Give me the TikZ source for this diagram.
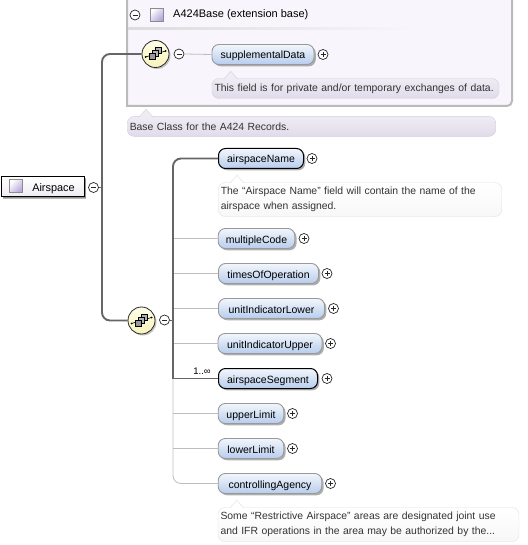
\documentclass[tikz,border=0pt]{standalone}
\usepackage{fontspec}
\setmainfont{Liberation Sans}
\usetikzlibrary{shadows}
\definecolor{spinegray}{HTML}{666666}
\definecolor{thingray}{HTML}{BDBDBD}
\definecolor{basefill}{HTML}{F8F6FC}
\definecolor{doctop}{HTML}{EFECF4}
\definecolor{docbottom}{HTML}{E0DBEA}
\definecolor{docedge}{HTML}{D4D0DC}
\definecolor{btntop}{HTML}{F2F6FC}
\definecolor{btnblue}{HTML}{B7CDED}
\definecolor{seqtop}{HTML}{FFFDE8}
\definecolor{seqbottom}{HTML}{F8F3BC}
\definecolor{iconpurple}{HTML}{B6A6DA}
\begin{document}
\begin{tikzpicture}[x=1pt,y=-1pt]
\tikzstyle{elem}=[draw=black!40,line width=0.9pt,rounded corners=7pt,top color=btntop,bottom color=btnblue,minimum height=20pt,inner sep=0pt,text height=10pt,text depth=1pt,font=\fontsize{10.5}{12}\selectfont,drop shadow={shadow xshift=1.8pt,shadow yshift=-1.8pt,fill=black!45,opacity=0.7}]
\tikzstyle{reqelem}=[elem,draw=black,line width=1pt]
\tikzstyle{doctext}=[rounded corners=7pt,inner xsep=2.5pt,inner ysep=0pt,align=left,font=\fontsize{10.4}{14.5}\selectfont,text=black!80]
\tikzstyle{docpurple}=[doctext,draw=docedge,top color=doctop,bottom color=docbottom]
\tikzstyle{docwhite}=[doctext,draw=black!12,top color=white,bottom color=black!3]
\tikzstyle{toggle}=[circle,draw=black!85,line width=0.7pt,fill=white,minimum size=10pt,inner sep=0pt]
\tikzstyle{plusbtn}=[toggle,path picture={\draw[line width=0.6pt] (path picture bounding box.center) ++(-2.5pt,0) -- ++(5pt,0) (path picture bounding box.center) ++(0,-2.5pt) -- ++(0,5pt);}]
\tikzstyle{minusbtn}=[toggle,path picture={\draw[line width=0.6pt] (path picture bounding box.center) ++(-2.5pt,0) -- ++(5pt,0);}]
\tikzstyle{seq}=[circle,draw=black!85,line width=0.8pt,minimum size=27pt,inner sep=0pt,top color=seqtop,bottom color=seqbottom,drop shadow={shadow xshift=1.5pt,shadow yshift=-1.5pt,fill=black!45}]
\tikzstyle{icon}=[draw=black!45,minimum size=13pt,inner sep=0pt,left color=white,right color=iconpurple,shading angle=45]
\tikzstyle{thick line}=[draw=spinegray,line width=1.9pt,rounded corners=8pt]
\tikzstyle{thin line}=[draw=thingray,line width=0.8pt]
\tikzset{seqglyph/.pic={
  \draw[line width=0.6pt] (-10,3) -- (10,-3);
  \fill (-10,3) circle (1pt) (10,-3) circle (1pt);
  \draw[fill=black!30,line width=0.4pt] (-0.5,-6.5) rectangle (5.5,-0.5);
  \draw[fill=black!30,line width=0.4pt] (-3.5,-3.5) rectangle (2.5,2.5);
  \draw[fill=black!40,line width=0.4pt] (-6.5,-0.5) rectangle (-0.5,5.5);
}}
\useasboundingbox (0,0) rectangle (527,545);

% base type frame
\draw[draw=black!27,line width=2pt,fill=basefill] (127,-4) -- (127,106) [rounded corners=5pt] -- (512,106) -- (512,-4);
\shade[left color=black!14,right color=basefill] (128,27.8) rectangle (418,29.8);
\node[minusbtn] (baseminus) at (135,15) {};
\node[icon] (baseicon) at (156.5,14.7) {};
\node[anchor=west,inner sep=0pt,font=\fontsize{11}{12}\selectfont] (basename) at (173,15) {A424Base (extension base)};

% left side
\node[elem,draw=black,line width=1pt,rounded corners=0pt,top color=white,bottom color=doctop,minimum width=83pt,font=\fontsize{10.9}{12}\selectfont,drop shadow={shadow xshift=2pt,shadow yshift=-2pt,fill=black!55}] (airspace) at (42.5,186.7) {\hspace{22pt}Airspace};
\node[icon] (airspaceicon) at (16,186.2) {};
\node[minusbtn] (airspaceminus) at (93.5,187.5) {};
\coordinate (spineouter) at (102,187.5);

\node[seq] (seqbase) at (155.5,54) {};
\pic at (seqbase) {seqglyph};
\node[minusbtn] (seqbaseminus) at (179,54) {};
\node[seq] (seqmain) at (141.5,320.5) {};
\pic at (seqmain) {seqglyph};
\node[minusbtn] (seqmainminus) at (164.5,320) {};
\coordinate (spinemain) at (173,320);

% base content
\node[elem,minimum width=102pt] (supplementalData) at (263,54.5) {supplementalData};
\node[plusbtn] (supplementalplus) at (323,54.5) {};
\node[docpurple,text width=282pt,minimum height=20pt] (supplementaldoc) at (355.5,88.5) {This field is for private and/or temporary exchanges of data.};
\node[docpurple,text width=363.5pt,minimum height=20pt] (basedoc) at (311.5,126.4) {Base Class for the A424 Records.};

% elements
\node[reqelem,minimum width=85pt] (airspaceName) at (261,158.5) {airspaceName};
\node[plusbtn] (airspaceNameplus) at (312,158.5) {};
\node[docwhite,text width=278.5pt,minimum height=34pt] (airspaceNamedoc) at (360,199.5) {The ``Airspace Name'' field will contain the name of the\\airspace when assigned.};
\node[elem,minimum width=76.5pt] (multipleCode) at (256.5,238.5) {multipleCode};
\node[plusbtn] (multipleCodeplus) at (304,238.5) {};
\node[elem,minimum width=100pt] (timesOfOperation) at (268.5,273.5) {timesOfOperation};
\node[plusbtn] (timesOfOperationplus) at (327,273.5) {};
\node[elem,minimum width=106pt] (unitIndicatorLower) at (271.5,308.5) {unitIndicatorLower};
\node[plusbtn] (unitIndicatorLowerplus) at (333.5,308.5) {};
\node[elem,minimum width=104pt] (unitIndicatorUpper) at (270,343.5) {unitIndicatorUpper};
\node[plusbtn] (unitIndicatorUpperplus) at (330.5,343.5) {};
\node[reqelem,minimum width=99pt] (airspaceSegment) at (268,378.5) {airspaceSegment};
\node[plusbtn] (airspaceSegmentplus) at (327,378.5) {};
\node[elem,minimum width=65.5pt] (upperLimit) at (251,413.5) {upperLimit};
\node[plusbtn] (upperLimitplus) at (292.5,413.5) {};
\node[elem,minimum width=65.5pt] (lowerLimit) at (251,448.5) {lowerLimit};
\node[plusbtn] (lowerLimitplus) at (292.5,448.5) {};
\node[elem,minimum width=103.5pt] (controllingAgency) at (270,483.5) {controllingAgency};
\node[plusbtn] (controllingAgencyplus) at (330.5,483.5) {};
\node[docwhite,text width=296pt,minimum height=34pt] (controllingdoc) at (368.5,524.5) {Some ``Restrictive Airspace'' areas are designated joint use\\and IFR operations in the area may be authorized by the...};
\node[font=\fontsize{9.5}{10}\selectfont,inner sep=0pt] (occurs) at (202,371.5) {1..∞};

% doc pointers
\draw[docedge,fill=doctop] ([shift={(12,0.8)}]supplementaldoc.north west) -- ++(7,-7.8) -- ++(7,7.8);
\draw[docedge,fill=doctop] ([shift={(12,0.8)}]basedoc.north west) -- ++(7,-7.8) -- ++(7,7.8);
\draw[black!12,fill=white] ([shift={(12,0.8)}]airspaceNamedoc.north west) -- ++(7,-7.8) -- ++(7,7.8);
\draw[black!12,fill=white] ([shift={(12,0.8)}]controllingdoc.north west) -- ++(7,-7.8) -- ++(7,7.8);

% connectors
\draw[thin line] (seqbaseminus.east) -- (supplementalData.west);
\draw[thin line,rounded corners=8pt] (spinemain) -- (controllingAgency.west -| spinemain) -- (controllingAgency.west);
\draw[thin line] (multipleCode.west -| spinemain) -- (multipleCode.west);
\draw[thin line] (timesOfOperation.west -| spinemain) -- (timesOfOperation.west);
\draw[thin line] (unitIndicatorLower.west -| spinemain) -- (unitIndicatorLower.west);
\draw[thin line] (unitIndicatorUpper.west -| spinemain) -- (unitIndicatorUpper.west);
\draw[thin line] (upperLimit.west -| spinemain) -- (upperLimit.west);
\draw[thin line] (lowerLimit.west -| spinemain) -- (lowerLimit.west);
\draw[thick line] (airspaceName.west) -- (airspaceName.west -| spinemain) -- (spinemain);
\draw[thick line,rounded corners=0pt] (spinemain) -- (airspaceSegment.west -| spinemain) -- (airspaceSegment.west);
\draw[draw=spinegray,line width=0.8pt] (seqmainminus.east) -- (spinemain);
\draw[thick line] (seqbase.west) -- (seqbase.west -| spineouter) -- (seqmain.west -| spineouter) -- (seqmain.west);
\draw[draw=spinegray,line width=0.8pt] (airspaceminus.east) -- (spineouter);
\end{tikzpicture}
\end{document}
